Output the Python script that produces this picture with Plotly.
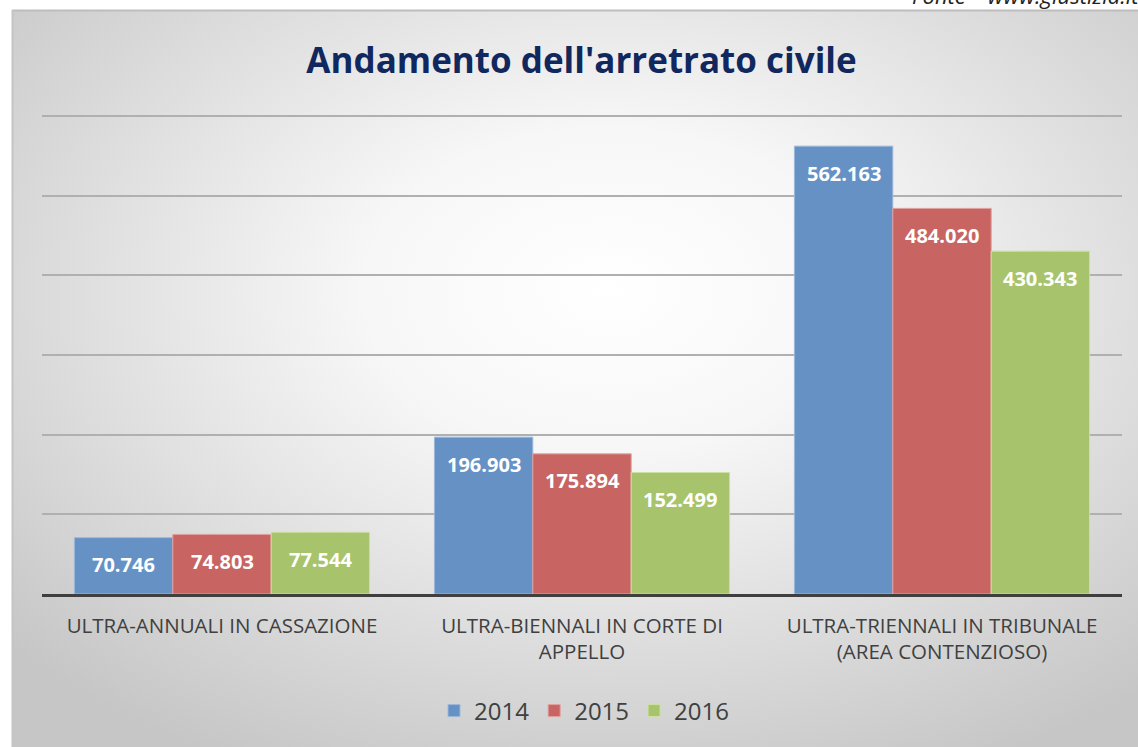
import base64
import plotly.graph_objects as go

categories = [
    "ULTRA-ANNUALI IN CASSAZIONE",
    "ULTRA-BIENNALI IN CORTE DI<br>APPELLO",
    "ULTRA-TRIENNALI IN TRIBUNALE<br>(AREA CONTENZIOSO)",
]
years = ["2014", "2015", "2016"]
values_2014 = [70746, 196903, 562163]
values_2015 = [74803, 175894, 484020]
values_2016 = [77544, 152499, 430343]
series = [values_2014, values_2015, values_2016]
colors = ["#6591c5", "#c86563", "#a7c46d"]
edge_colors = ["#9db8dc", "#e0a09e", "#cde0a4"]

W, H = 1138, 747
L, R, T, B = 42, 16, 112, 153
pw, ph = W - L - R, H - T - B


def px_x(p):
    return (p - L) / pw


def px_y(p):
    return (H - B - p) / ph


def fmt(v):
    return f"{v:,}".replace(",", ".")


svg = (
    '<svg xmlns="http://www.w3.org/2000/svg" width="1000" height="1000" '
    'preserveAspectRatio="none" viewBox="0 0 1000 1000">'
    '<defs><radialGradient id="g" cx="0.53" cy="0.38" r="0.72">'
    '<stop offset="0" stop-color="#ffffff"/>'
    '<stop offset="0.3" stop-color="#f7f7f7"/>'
    '<stop offset="1" stop-color="#c6c6c6"/>'
    '</radialGradient></defs>'
    '<rect width="1000" height="1000" fill="url(#g)"/></svg>'
)
bg_src = "data:image/svg+xml;base64," + base64.b64encode(svg.encode()).decode()

fig = go.Figure()
for yr, vals, c, ec in zip(years, series, colors, edge_colors):
    fig.add_trace(go.Bar(
        x=categories, y=vals, name=yr,
        marker=dict(color=c, line=dict(color=ec, width=1)),
    ))

bar_w = pw / 3 * (1 - 0.18) / 3
for i, vals in enumerate(series):
    for cat, v in zip(categories, vals):
        fig.add_annotation(
            x=cat, y=v, xref="x", yref="y", text=fmt(v), showarrow=False,
            xshift=(i - 1) * bar_w, yshift=-27, yanchor="middle",
            font=dict(family="Open Sans", size=20, color="white", weight="bold"),
        )

fig.add_annotation(
    x=px_x(910), y=px_y(12), xref="paper", yref="paper", xanchor="left",
    yanchor="bottom", showarrow=False, text="<i>Fonte – www.giustizia.it</i>",
    font=dict(family="Open Sans", size=22, color="#222222"),
)

fig.add_layout_image(
    source=bg_src, xref="paper", yref="paper",
    x=px_x(12), y=px_y(10), sizex=(W - 12) / pw, sizey=(H - 10) / ph,
    xanchor="left", yanchor="top", sizing="stretch", layer="below",
)
fig.add_shape(type="line", xref="paper", yref="paper",
              x0=px_x(12), x1=px_x(W + 5), y0=px_y(10.5), y1=px_y(10.5),
              line=dict(color="#bdbdbd", width=2))
fig.add_shape(type="line", xref="paper", yref="paper",
              x0=px_x(12.5), x1=px_x(12.5), y0=px_y(10), y1=px_y(H + 5),
              line=dict(color="#c4c4c4", width=2))

fig.update_layout(
    width=W, height=H,
    margin=dict(l=L, r=R, t=T, b=B),
    paper_bgcolor="white", plot_bgcolor="rgba(0,0,0,0)",
    barmode="group", bargap=0.18, bargroupgap=0,
    title=dict(
        text="Andamento dell'arretrato civile", x=0.511, xanchor="center",
        y=1 - 61 / H, yanchor="middle",
        font=dict(family="Open Sans", size=35, color="#10285e", weight="bold"),
    ),
    legend=dict(
        orientation="h", x=px_x(584), xanchor="center", y=px_y(711),
        yanchor="middle", font=dict(family="Open Sans", size=24, color="#404040"),
        bgcolor="rgba(0,0,0,0)", itemwidth=30,
    ),
    font=dict(family="Open Sans"),
)
fig.update_xaxes(
    showgrid=False, showline=True, linecolor="#3f3f3f", linewidth=3,
    tickfont=dict(family="Open Sans", size=20.5, color="#404040"), ticks="outside",
    ticklen=11, tickcolor="rgba(0,0,0,0)",
)
fig.update_yaxes(
    range=[0, 605000], dtick=100000, showticklabels=False,
    showgrid=True, gridcolor="#b0b0b0", gridwidth=1.5, zeroline=False,
    showline=False,
)

fig.write_html("out.html", config={"displayModeBar": False},
               post_script="document.body.style.margin='0';")
